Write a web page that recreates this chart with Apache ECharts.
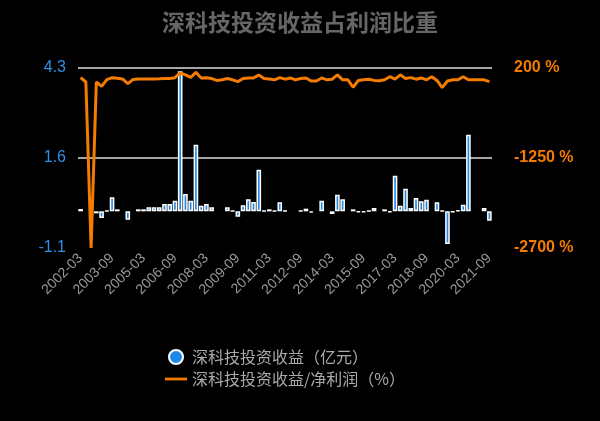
<!DOCTYPE html><html><head><meta charset="utf-8"><script src="https://cdn.jsdelivr.net/npm/echarts@6/dist/echarts.min.js"></script></head><body style="margin:0;background:#000"><div id="c" style="width:600px;height:421px"></div><script>
const categories=[];for(let y=2002;y<=2021;y++)for(const m of ['03','06','09','12']){const s=y+'-'+m;categories.push(s);if(s==='2021-09')break;}
const investIncome=[0.07,null,null,-0.06,-0.2,0.02,0.42,0.06,null,-0.25,null,0.06,0.06,0.12,0.12,0.12,0.22,0.22,0.32,4.2,0.52,0.32,2.0,0.17,0.22,0.12,null,null,0.12,0.02,-0.16,0.18,0.36,0.28,1.25,0.02,0.06,0.02,0.27,0.02,null,null,0.02,0.08,-0.04,null,0.32,null,-0.08,0.5,0.36,null,0.06,-0.03,-0.03,0.02,0.1,null,0.06,-0.03,1.07,0.17,0.68,0.1,0.4,0.3,0.35,null,0.27,0.02,-0.98,-0.02,0.03,0.2,2.3,null,null,0.1,-0.28];
const ratio=[44,-26,-2700,-26,-95,14,44,34,23,-51,14,23,23,23,23,26,30,30,44,120,88,50,130,40,44,30,0,10,30,10,-20,30,40,40,87,30,23,10,45,20,40,10,30,40,-10,-10,40,10,20,90,10,10,-110,0,10,20,0,-5,10,60,20,90,30,45,20,40,10,60,0,-117,-10,10,10,60,10,10,10,10,-20];
const yLeftTicks=[-1.1,1.6,4.3];
const ch=echarts.init(document.getElementById('c'));
ch.setOption({backgroundColor:'#000',
title:{text:'深科技投资收益占利润比重',left:'center',top:6,textStyle:{color:'#666',fontSize:23,fontWeight:'bold',fontFamily:'Noto Sans CJK SC'}},
grid:{left:78,right:108,top:68,bottom:173},
legend:{orient:'vertical',left:160,top:344,itemGap:6,itemWidth:22,textStyle:{color:'#aaa',fontSize:16,fontFamily:'Noto Sans CJK SC'},data:[{name:'深科技投资收益（亿元）',icon:'circle'},{name:'深科技投资收益/净利润（%）',icon:'path://M0,0 L24,0 L24,3 L0,3Z'}]},
xAxis:{type:'category',data:categories,axisTick:{show:false},axisLine:{show:false},axisLabel:{interval:5,rotate:45,color:'#999',fontSize:14}},
yAxis:[{type:'value',min:-1.1,max:4.3,interval:2.7,axisLabel:{color:'#2f8fe8',fontSize:16,margin:12,formatter:v=>yLeftTicks.includes(+v.toFixed(1))?v.toFixed(1):''},splitLine:{showMinLine:false,lineStyle:{color:'#ddd',width:1.5}}},
{type:'value',min:-2700,max:200,interval:1450,splitLine:{show:false},axisLabel:{color:'#f57c00',fontSize:16,fontWeight:'bold',margin:22,formatter:v=>v+' %'}}],
series:[{name:'深科技投资收益（亿元）',type:'bar',data:investIncome,barWidth:'88%',itemStyle:{color:'#1e88e5',borderColor:'#fff',borderWidth:1.5}},
{name:'深科技投资收益/净利润（%）',type:'line',yAxisIndex:1,data:ratio,symbol:'none',connectNulls:true,lineStyle:{color:'#f57c00',width:3},itemStyle:{color:'#f57c00'}}]});
</script></body></html>
